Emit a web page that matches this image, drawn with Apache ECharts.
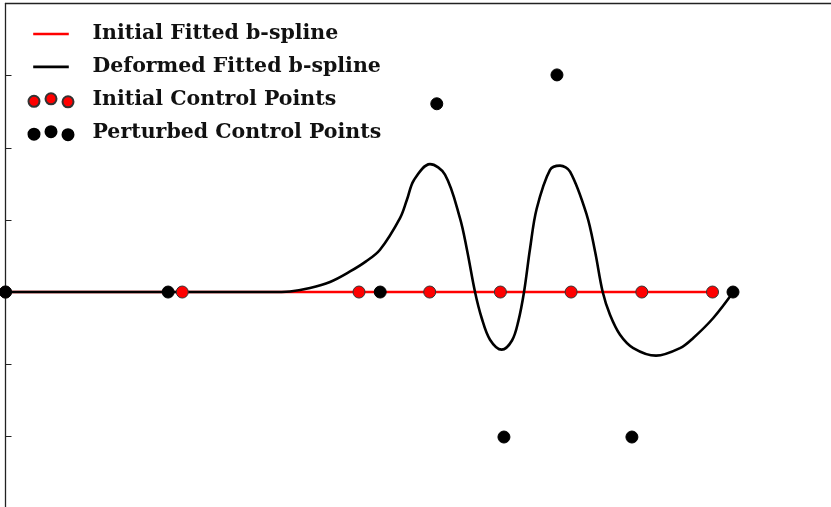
<!DOCTYPE html>
<html>
<head>
<meta charset="utf-8">
<script src="https://cdn.jsdelivr.net/npm/echarts@6/dist/echarts.min.js"></script>
<style>
html,body{margin:0;padding:0;background:#fff;}
#chart{width:831px;height:507px;}
</style>
</head>
<body>
<div id="chart"></div>
<script>
// ---- data ----
var seriesNames = ['Initial Fitted b-spline', 'Deformed Fitted b-spline', 'Initial Control Points', 'Perturbed Control Points'];

var initialCurveX = [0, 10];
var initialCurveY = [0, 0];

var deformedCurveX = [0, 3.741, 4.024, 4.307, 4.590, 4.873, 5.099, 5.297, 5.580, 5.679, 5.778, 6.004, 6.216, 6.428, 6.527, 6.641, 6.735, 6.853, 7.018, 7.164, 7.253, 7.334, 7.419, 7.513, 7.702, 7.843, 7.985, 8.221, 8.339, 8.447, 8.550, 8.692, 8.880, 9.201, 9.540, 9.728, 10.011, 10.294];
var deformedCurveY = [0, 0, 0.008, 0.055, 0.139, 0.285, 0.425, 0.586, 1.025, 1.283, 1.554, 1.773, 1.628, 1.025, 0.586, 0, -0.360, -0.661, -0.799, -0.672, -0.407, 0, 0.600, 1.154, 1.694, 1.753, 1.670, 1.071, 0.562, 0, -0.314, -0.591, -0.776, -0.882, -0.778, -0.637, -0.360, 0];

var initialCtrlX = [0, 2.5, 5, 6, 7, 8, 9, 10];
var initialCtrlY = [0, 0, 0, 0, 0, 0, 0, 0];

var perturbedCtrlX = [0, 2.30, 5.30, 6.10, 7.05, 7.80, 8.86, 10.29];
var perturbedCtrlY = [0, 0, 0, 2.61, -2.01, 3.01, -2.01, 0];

var yTicks = [-2, -1, 0, 1, 2, 3, 4];
var yRange = [-2.98, 4];
var xRange = [0, 11.676];

function zip(a, b) { return a.map(function (v, i) { return [v, b[i]]; }); }

var chart = echarts.init(document.getElementById('chart'), null, {renderer: 'canvas'});

var threeDots = 'path://M0,0 M45,15 ' +
  'M0,9 a5.5,5.5 0 1,0 11,0 a5.5,5.5 0 1,0 -11,0 Z ' +
  'M17,6.5 a5.5,5.5 0 1,0 11,0 a5.5,5.5 0 1,0 -11,0 Z ' +
  'M34,9.5 a5.5,5.5 0 1,0 11,0 a5.5,5.5 0 1,0 -11,0 Z';
var lineIcon = 'path://M0,0 M45,15 M4.7,6.2 L40.3,6.2 L40.3,8.8 L4.7,8.8 Z';

var option = {
  animation: false,
  backgroundColor: '#ffffff',
  grid: {left: 5.5, top: 3.5, right: 0, bottom: 0, show: false, containLabel: false},
  xAxis: {
    type: 'value', position: 'top', min: xRange[0], max: xRange[1],
    axisLine: {show: true, onZero: false, lineStyle: {color: '#222', width: 1.3}},
    axisTick: {show: false}, axisLabel: {show: false}, splitLine: {show: false}
  },
  yAxis: {
    type: 'value', min: yRange[0], max: yRange[1],
    axisLine: {show: true, onZero: false, lineStyle: {color: '#222', width: 1.3}},
    axisTick: {show: true, inside: true, length: 6, customValues: yTicks, lineStyle: {color: '#222', width: 1}},
    axisLabel: {show: false}, splitLine: {show: false}
  },
  legend: {
    orient: 'vertical', left: 27.5, top: 23.5, padding: 0,
    itemWidth: 45, itemHeight: 15, itemGap: 11.9,
    textStyle: {fontFamily: 'DejaVu Serif', fontWeight: 'bold', fontSize: 20.5, color: '#111', lineHeight: 20, padding: [0, 0, 0, 14]},
    data: [
      {name: seriesNames[0], icon: lineIcon},
      {name: seriesNames[1], icon: lineIcon},
      {name: seriesNames[2], icon: threeDots},
      {name: seriesNames[3], icon: threeDots}
    ]
  },
  series: [
    {
      name: seriesNames[0], type: 'line', data: zip(initialCurveX, initialCurveY),
      symbol: 'none', color: '#ff0000', itemStyle: {color: '#ff0000', borderWidth: 0},
      lineStyle: {color: '#ff0000', width: 2.6}, z: 2
    },
    {
      name: seriesNames[1], type: 'line', data: zip(deformedCurveX, deformedCurveY),
      symbol: 'none', smooth: 0.35, color: '#000000', itemStyle: {color: '#000000', borderWidth: 0},
      lineStyle: {color: '#000000', width: 2.6}, z: 3
    },
    {
      name: seriesNames[2], type: 'scatter', data: zip(initialCtrlX, initialCtrlY),
      symbol: 'circle', symbolSize: 12,
      itemStyle: {color: '#ff0000', borderColor: '#333', borderWidth: 1, opacity: 1}, z: 4
    },
    {
      name: seriesNames[3], type: 'scatter', data: zip(perturbedCtrlX, perturbedCtrlY),
      symbol: 'circle', symbolSize: 12,
      itemStyle: {color: '#000000', borderColor: '#000', borderWidth: 1, opacity: 1}, z: 5
    }
  ]
};
chart.setOption(option);
</script>
</body>
</html>
